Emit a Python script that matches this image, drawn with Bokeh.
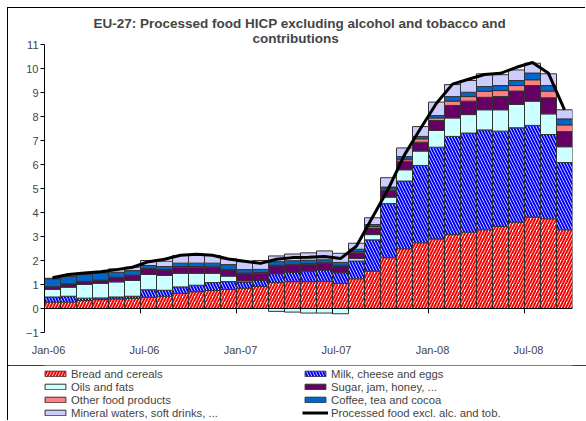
import numpy as np
from bokeh.plotting import figure
from bokeh.models import Range1d, FixedTicker, Legend, LegendItem, Span, Title
from bokeh.layouts import column
from bokeh.embed import file_html
from bokeh.resources import INLINE

months = ["Jan-06", "Feb-06", "Mar-06", "Apr-06", "May-06", "Jun-06", "Jul-06", "Aug-06", "Sep-06", "Oct-06", "Nov-06", "Dec-06",
          "Jan-07", "Feb-07", "Mar-07", "Apr-07", "May-07", "Jun-07", "Jul-07", "Aug-07", "Sep-07", "Oct-07", "Nov-07", "Dec-07",
          "Jan-08", "Feb-08", "Mar-08", "Apr-08", "May-08", "Jun-08", "Jul-08", "Aug-08", "Sep-08"]

bread = [0.27, 0.27, 0.33, 0.37, 0.40, 0.42, 0.47, 0.51, 0.63, 0.70, 0.75, 0.79, 0.85, 0.92, 1.08, 1.12, 1.12, 1.13, 1.04, 1.24, 1.56, 2.12, 2.49, 2.74, 2.90, 3.08, 3.18, 3.28, 3.42, 3.60, 3.81, 3.74, 3.28]
milk = [0.21, 0.24, 0.10, 0.07, 0.08, 0.09, 0.31, 0.25, 0.27, 0.27, 0.33, 0.33, 0.25, 0.25, 0.37, 0.38, 0.44, 0.47, 0.45, 0.74, 1.30, 2.25, 2.82, 3.22, 3.82, 4.09, 4.13, 4.16, 3.97, 3.93, 3.82, 3.51, 2.80]
oils = [0.32, 0.38, 0.57, 0.61, 0.63, 0.66, 0.64, 0.62, 0.57, 0.50, 0.39, 0.23, 0.05, 0.00, -0.12, -0.15, -0.19, -0.19, -0.22, 0.10, 0.22, 0.27, 0.47, 0.60, 0.70, 0.77, 0.77, 0.84, 0.89, 0.97, 1.01, 0.86, 0.66]
sugar = [0.10, 0.13, 0.12, 0.12, 0.17, 0.20, 0.23, 0.23, 0.25, 0.25, 0.25, 0.26, 0.30, 0.30, 0.32, 0.31, 0.28, 0.28, 0.26, 0.24, 0.27, 0.28, 0.36, 0.37, 0.41, 0.52, 0.56, 0.52, 0.55, 0.56, 0.65, 0.67, 0.63]
other = [0.01, 0.01, 0.01, 0.01, 0.02, 0.02, 0.02, 0.02, 0.03, 0.03, 0.02, 0.02, 0.03, 0.03, 0.03, 0.03, 0.03, 0.03, 0.05, 0.05, 0.07, 0.06, 0.08, 0.14, 0.11, 0.18, 0.19, 0.25, 0.25, 0.23, 0.24, 0.28, 0.28]
coffee = [0.33, 0.30, 0.29, 0.29, 0.21, 0.19, 0.12, 0.12, 0.14, 0.14, 0.15, 0.20, 0.14, 0.13, 0.15, 0.15, 0.14, 0.12, 0.12, 0.10, 0.08, 0.08, 0.11, 0.10, 0.10, 0.19, 0.18, 0.20, 0.21, 0.21, 0.28, 0.23, 0.25]
mineral = [0.02, 0.03, 0.04, 0.03, 0.14, 0.14, 0.21, 0.22, 0.32, 0.32, 0.32, 0.24, 0.33, 0.37, 0.24, 0.28, 0.31, 0.37, 0.38, 0.25, 0.28, 0.39, 0.36, 0.41, 0.56, 0.50, 0.49, 0.53, 0.45, 0.44, 0.41, 0.49, 0.38]
total = [1.28, 1.42, 1.48, 1.53, 1.62, 1.72, 1.95, 2.05, 2.22, 2.26, 2.22, 2.06, 1.97, 1.88, 2.05, 2.12, 2.14, 2.17, 2.08, 2.60, 3.80, 5.00, 6.40, 7.50, 8.55, 9.35, 9.55, 9.75, 9.80, 10.05, 10.25, 9.80, 8.28]

names = ["Bread and cereals", "Milk, cheese and eggs", "Oils and fats", "Sugar, jam, honey, ...",
         "Other food products", "Coffee, tea and cocoa", "Mineral waters, soft drinks, ..."]
line_name = "Processed food excl. alc. and tob."
title_line1 = "EU-27: Processed food HICP excluding alcohol and tobacco and"
title_line2 = "contributions"

FONT = "Liberation Sans"
OUT = "#333333"
styles = [
    dict(fill_color="white", hatch_pattern="right_diagonal_line", hatch_color="#FF0000", hatch_scale=6, hatch_weight=2),
    dict(fill_color="white", hatch_pattern="left_diagonal_line", hatch_color="#0000FF", hatch_scale=6, hatch_weight=2),
    dict(fill_color="#CCFFFF"),
    dict(fill_color="#660066"),
    dict(fill_color="#FF8080"),
    dict(fill_color="#0066CC"),
    dict(fill_color="#CCCCFF"),
]
data = [bread, milk, oils, sugar, other, coffee, mineral]

n = len(months)
x = np.arange(n)

p = figure(width=578, height=357, output_backend="svg", toolbar_location=None,
           x_range=Range1d(-0.5, n - 0.5), y_range=Range1d(-1, 11),
           min_border_left=36, min_border_right=14, min_border_top=36, min_border_bottom=33)
p.title.text = title_line1
p.title.align = "left"
p.title.offset = 49
p.title.text_font = FONT
p.title.text_font_size = "13.5px"
p.title.text_font_style = "bold"
p.title.standoff = 0
p.add_layout(Title(text=title_line2, align="left", offset=208, text_font=FONT,
                   text_font_size="13.5px", text_font_style="bold", standoff=-3), "above")
p.xgrid.visible = False
p.ygrid.visible = False
p.outline_line_color = None
p.background_fill_color = "white"

pos = np.zeros(n)
neg = np.zeros(n)
for vals, st in zip(data, styles):
    v = np.array(vals, dtype=float)
    bottom = np.where(v >= 0, pos, neg + v)
    top = np.where(v >= 0, pos + v, neg)
    pos = pos + np.where(v >= 0, v, 0)
    neg = neg + np.where(v < 0, v, 0)
    p.vbar(x=x, bottom=bottom, top=top, width=1.0, line_color=OUT, line_width=1, **st)

p.add_layout(Span(location=0, dimension="width", line_color="black", line_width=1))
bx = x[::6] - 0.5
p.segment(x0=bx, y0=np.zeros(len(bx)), x1=bx, y1=np.full(len(bx), -0.2), line_color="black", line_width=1)

p.line(x, total, line_color="black", line_width=3)

p.yaxis.ticker = FixedTicker(ticks=list(range(-1, 12)))
p.yaxis.major_label_text_font = FONT
p.yaxis.major_label_text_font_size = "11px"
p.yaxis.major_tick_out = 4
p.yaxis.major_tick_in = 0
p.yaxis.minor_tick_line_color = None
p.yaxis.major_label_standoff = 2
p.yaxis.axis_line_color = "black"

label_pos = [float(i) - 0.25 for i in x[::6]]
p.xaxis.ticker = FixedTicker(ticks=label_pos)
p.xaxis.major_label_overrides = {lp: months[int(i)] for lp, i in zip(label_pos, x[::6])}
p.xaxis.major_label_text_font = FONT
p.xaxis.major_label_text_font_size = "11px"
p.xaxis.axis_line_color = None
p.xaxis.major_tick_line_color = None
p.xaxis.minor_tick_line_color = None
p.xaxis.major_tick_out = 0
p.xaxis.major_label_standoff = 11

# legend figure
lg = figure(width=578, height=56, output_backend="svg", toolbar_location=None,
            x_range=Range1d(0, 1), y_range=Range1d(0, 1), min_border=0,
            x_axis_location=None, y_axis_location=None)
lg.xgrid.visible = False
lg.ygrid.visible = False
lg.outline_line_color = None
nanv = np.array([np.nan])
rs = []
for st in styles:
    rs.append(lg.vbar(x=nanv, top=nanv, width=1, line_color=OUT, line_width=1, **st))
rl = lg.line(x=nanv, y=nanv, line_color="black", line_width=3)
order = [0, 2, 4, 6, 1, 3, 5]
items = [LegendItem(label=names[i], renderers=[rs[i]]) for i in order]
items.insert(7, LegendItem(label=line_name, renderers=[rl]))
legend = Legend(items=items, orientation="vertical", nrows=4, location=(-2, 2),
                padding=0, margin=0, spacing=0, glyph_width=26, glyph_height=7,
                label_height=13, label_width=231, label_standoff=3,
                label_text_font=FONT, label_text_font_size="11.3px",
                border_line_color=None, background_fill_alpha=0)
lg.add_layout(legend, "center")
lg.styles = {"box-shadow": "inset 0px 1px 0px 0px #000000"}

layout = column(p, lg, spacing=0, margin=(8, 0, 0, 8),
                styles={"box-shadow": "-1px -1px 0px 0px #000000"})

open("out.html", "w").write(file_html(layout, INLINE))
